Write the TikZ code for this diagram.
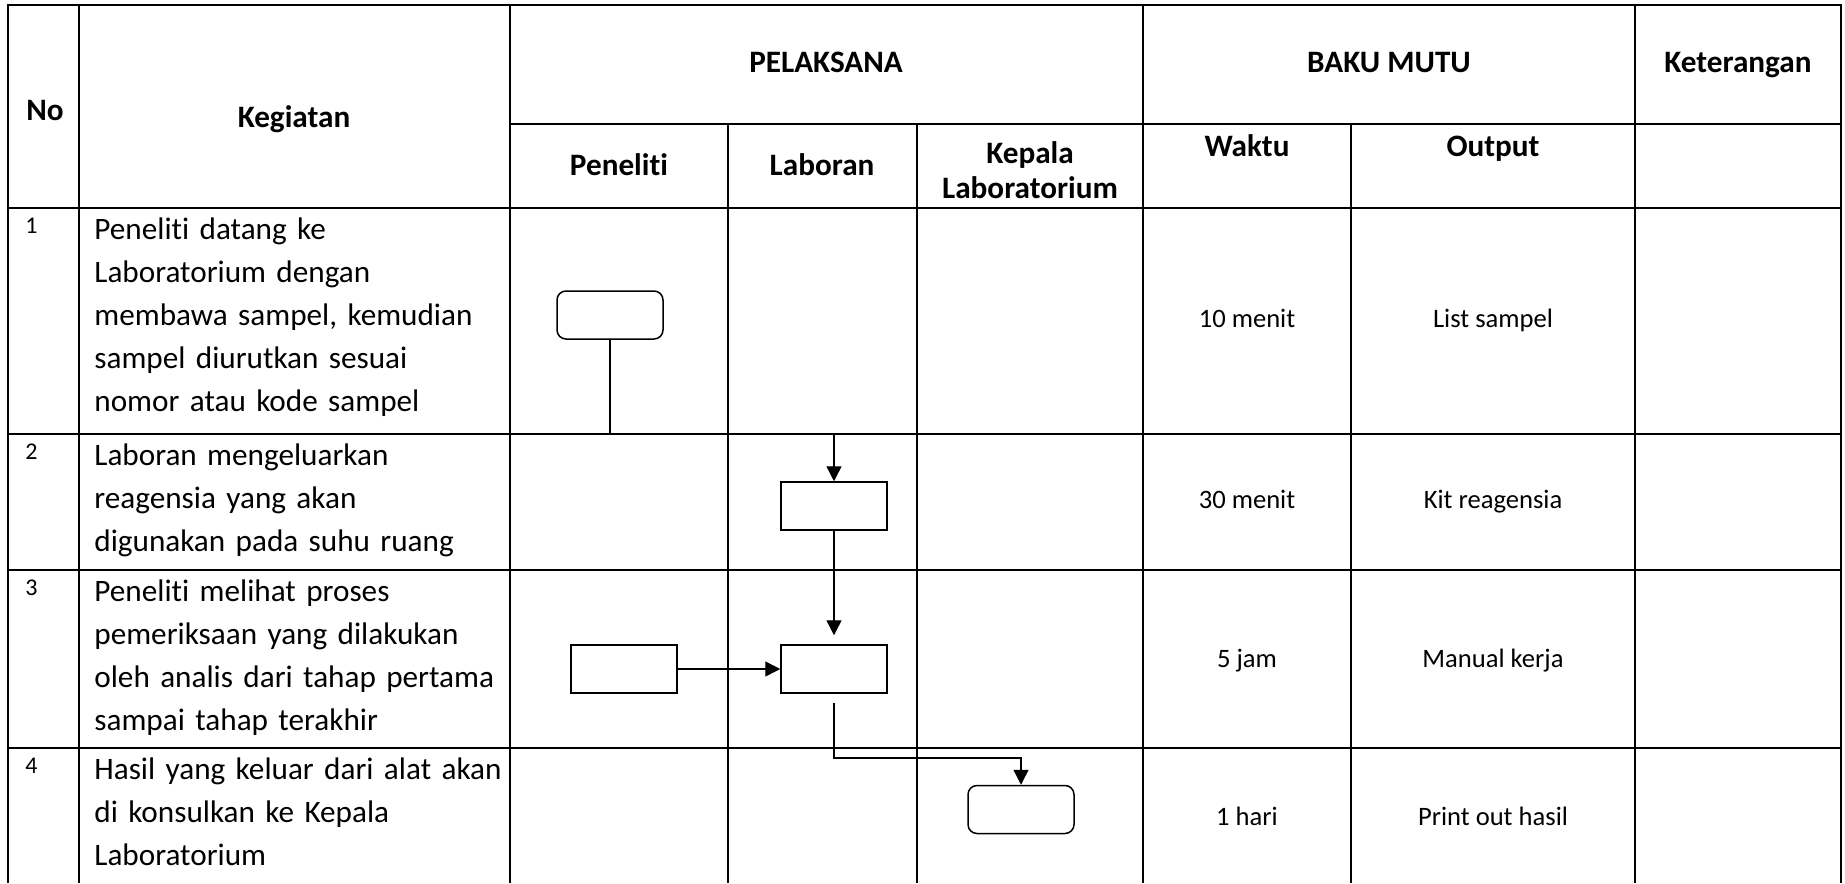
\documentclass[tikz,border=0pt]{standalone}
\usepackage{fontspec}
\setmainfont{Carlito}[Ligatures=NoCommon]
\usetikzlibrary{positioning, arrows.meta}

\begin{document}
\begin{tikzpicture}[x=0.5pt, y=-0.5pt,
        tline/.style={% table rules
            line width=1.1pt,
            },
        hline/.style={% row rules
            line width=1.4pt,
            },
        hdr/.style={% header texts
            font=\fontsize{15.6}{17.5}\selectfont\bfseries,
            align=center,
            },
        num/.style={% row numbers
            font=\fontsize{12}{14}\selectfont,
            anchor=base west,
            inner sep=0pt,
            },
        act/.style={% activity texts
            font=\fontsize{15.6}{21.5}\selectfont,
            text width=220pt,
            align=left,
            anchor=base west,
            inner sep=0pt,
            },
        dat/.style={% time and output
            font=\fontsize{13.3}{16}\selectfont,
            anchor=base,
            },
        proc/.style={% process boxes
            rectangle,
            draw,
            line width=0.75pt,
            minimum width=53pt,
            minimum height=24pt,
            inner sep=0pt,
            },
        term/.style={% start and end boxes
            proc,
            rounded corners=4.5pt,
            },
        flow/.style={% connectors
            line width=0.7pt,
            -{Triangle[length=7.5pt,width=7.5pt]},
            },
            ]
    \useasboundingbox (0,0) rectangle (1845,883);
    % Draw the table
    \draw[hline] (8,883) -- (8,5) -- (1841,5) -- (1841,883);
    \draw[hline] (510,124) -- (1841,124);
    \draw[hline] (8,208) -- (1841,208);
    \foreach \y in {434,570,748}
    {\draw[hline] (8,\y) -- (1841,\y);}
    \foreach \x in {79,510,1143,1635}
    {\draw[tline] (\x,5) -- (\x,883);}
    \foreach \x in {728,917,1351}
    {\draw[tline] (\x,124) -- (\x,883);}
    % Header
    \node[hdr, anchor=base] (hno) at (45,120) {No};
    \node[hdr, anchor=base] (hkeg) at (294,127) {Kegiatan};
    \node[hdr, anchor=base] (hpel) at (826,73) {PELAKSANA};
    \node[hdr, anchor=base] (hbaku) at (1389,73) {BAKU MUTU};
    \node[hdr, anchor=base] (hket) at (1738,73) {Keterangan};
    \node[hdr] (hpen) at (619,165) {Peneliti};
    \node[hdr] (hlab) at (822,165) {Laboran};
    \node[hdr] (hkep) at (1030,170) {Kepala\\Laboratorium};
    \node[hdr, anchor=base] (hwak) at (1247,156) {Waktu};
    \node[hdr, anchor=base] (hout) at (1493,156) {Output};
    % Rows
    \node[num] (n1) at (25,233) {1};
    \node[num] (n2) at (25,459) {2};
    \node[num] (n3) at (25,595) {3};
    \node[num] (n4) at (25,773) {4};
    \node[act] (k1) at (94,239) {Peneliti datang ke\\Laboratorium dengan\\membawa sampel, kemudian\\sampel diurutkan sesuai\\nomor atau kode sampel};
    \node[act] (k2) at (94,465) {Laboran mengeluarkan\\reagensia yang akan\\digunakan pada suhu ruang};
    \node[act] (k3) at (94,601) {Peneliti melihat proses\\pemeriksaan yang dilakukan\\oleh analis dari tahap pertama\\sampai tahap terakhir};
    \node[act] (k4) at (94,779) {Hasil yang keluar dari alat akan\\di konsulkan ke Kepala\\Laboratorium};
    \node[dat] (w1) at (1247,327) {10 menit};
    \node[dat] (w2) at (1247,508) {30 menit};
    \node[dat] (w3) at (1247,667) {5 jam};
    \node[dat] (w4) at (1247,825) {1 hari};
    \node[dat] (o1) at (1493,327) {List sampel};
    \node[dat] (o2) at (1493,508) {Kit reagensia};
    \node[dat] (o3) at (1493,667) {Manual kerja};
    \node[dat] (o4) at (1493,825) {Print out hasil};
    % Flow boxes
    \node[term] (s1) at (610,315) {};
    \node[proc] (s2) at (834,506) {};
    \node[proc] (s3a) at (624,669) {};
    \node[proc] (s3b) at (834,669) {};
    \node[term] (s4) at (1021,809.5) {};
    \coordinate (j1) at (610,434);
    \coordinate (j3) at (834,758);
    % Connect them
    \draw[flow] (s1.south) -- (j1) -| (s2.north);
    \draw[flow, shorten >=4.5pt] (s2.south) -- (s3b.north);
    \draw[flow] (s3a.east) -- (s3b.west);
    \draw[flow, shorten <=4.5pt] (s3b.south) -- (j3) -| (s4.north);
\end{tikzpicture}
\end{document}
